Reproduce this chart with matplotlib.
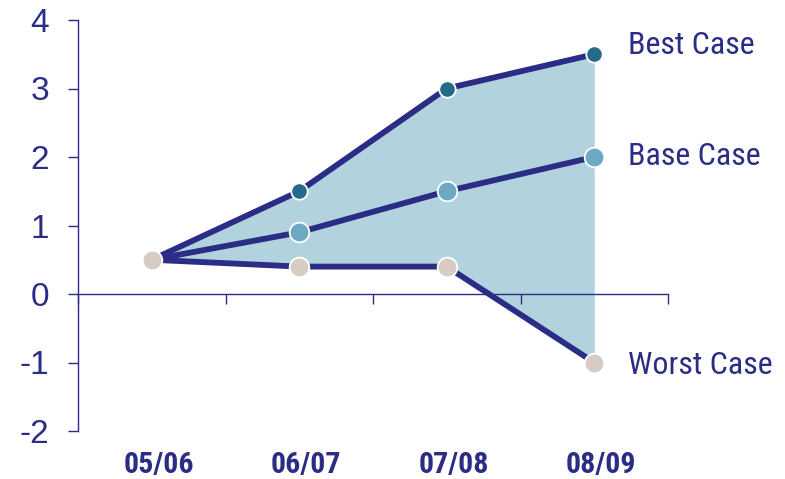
import matplotlib
matplotlib.use("Agg")
import matplotlib.pyplot as plt
from matplotlib import font_manager
from matplotlib.transforms import blended_transform_factory

categories = ["05/06", "06/07", "07/08", "08/09"]
best_case = [0.5, 1.5, 3.0, 3.5]
base_case = [0.5, 0.9, 1.5, 2.0]
worst_case = [0.5, 0.4, 0.4, -1.0]
y_ticks = [-2, -1, 0, 1, 2, 3, 4]
series_labels = ["Best Case", "Base Case", "Worst Case"]

navy = "#2B2C86"
fill_color = "#B2D3DE"
best_marker = "#236B88"
base_marker = "#6BAAC0"
worst_marker = "#D6CCC3"

installed = {f.name for f in font_manager.fontManager.ttflist}
narrow_name = None
for cand in ["Liberation Sans Narrow", "Arial Narrow", "Roboto Condensed",
             "DejaVu Sans Condensed", "Open Sans Condensed"]:
    if cand in installed:
        narrow_name = cand
        break
if narrow_name:
    narrow = [narrow_name, "Liberation Sans", "DejaVu Sans"]
    label_size = 24 if "Narrow" in narrow_name else 23
    cat_size = 24 if "Narrow" in narrow_name else 21.5
else:
    narrow = ["Liberation Sans", "DejaVu Sans"]
    label_size = 20.5
    cat_size = 20
regular = ["Liberation Sans", "DejaVu Sans"]

fig = plt.figure(figsize=(7.85, 4.79), dpi=100)
ax = fig.add_axes([78/785, 1 - 431/479, (668 - 78)/785, (431 - 20)/479])

x = [i + 0.5 for i in range(len(categories))]

ax.fill_between(x, worst_case, best_case, color=fill_color, linewidth=0, zorder=1)

lw = 4.2
for series in (best_case, base_case, worst_case):
    ax.plot(x, series, color=navy, lw=lw, zorder=3,
            solid_capstyle="round", solid_joinstyle="round")

ax.scatter(x[1:], best_case[1:], s=140, color=best_marker, edgecolor="white", linewidth=1.3, zorder=4)
ax.scatter(x[1:], base_case[1:], s=200, color=base_marker, edgecolor="white", linewidth=1.3, zorder=4)
ax.scatter(x, worst_case, s=200, color=worst_marker, edgecolor="white", linewidth=1.3, zorder=4)

ax.set_xlim(0, len(categories))
ax.set_ylim(-2, 4)

for s in ["top", "right"]:
    ax.spines[s].set_visible(False)
ax.spines["bottom"].set_position(("data", 0))
for s in ["left", "bottom"]:
    ax.spines[s].set_color(navy)
    ax.spines[s].set_linewidth(1.0)
ax.spines["bottom"].set_zorder(2)

ax.set_yticks(y_ticks)
ax.set_yticklabels([str(v) for v in y_ticks])
ax.tick_params(axis="y", direction="out", length=7.2, width=1.0, color=navy,
               labelcolor=navy, labelsize=24, pad=13.5)
for t in ax.get_yticklabels():
    t.set_family(regular)

ax.set_xticks(range(len(categories) + 1))
ax.set_xticklabels([])
ax.tick_params(axis="x", direction="out", length=7.2, width=1.0, color=navy)

trans = blended_transform_factory(ax.transData, ax.transAxes)
for xi, lab in zip(x, categories):
    ax.annotate(lab, xy=(xi, 0), xycoords=trans, xytext=(5, -24.5),
                textcoords="offset points", ha="center", va="center",
                fontsize=cat_size, fontweight="bold", color=navy, family=narrow,
                annotation_clip=False)

ends = [best_case[-1], base_case[-1], worst_case[-1]]
dys = [6.5, 0.5, -2.0]
for lab, yv, dy in zip(series_labels, ends, dys):
    ax.annotate(lab, xy=(x[-1], yv), xytext=(24, dy), textcoords="offset points",
                ha="left", va="center", fontsize=label_size, color=navy, family=narrow,
                annotation_clip=False)

fig.savefig("out.png", dpi=100)
